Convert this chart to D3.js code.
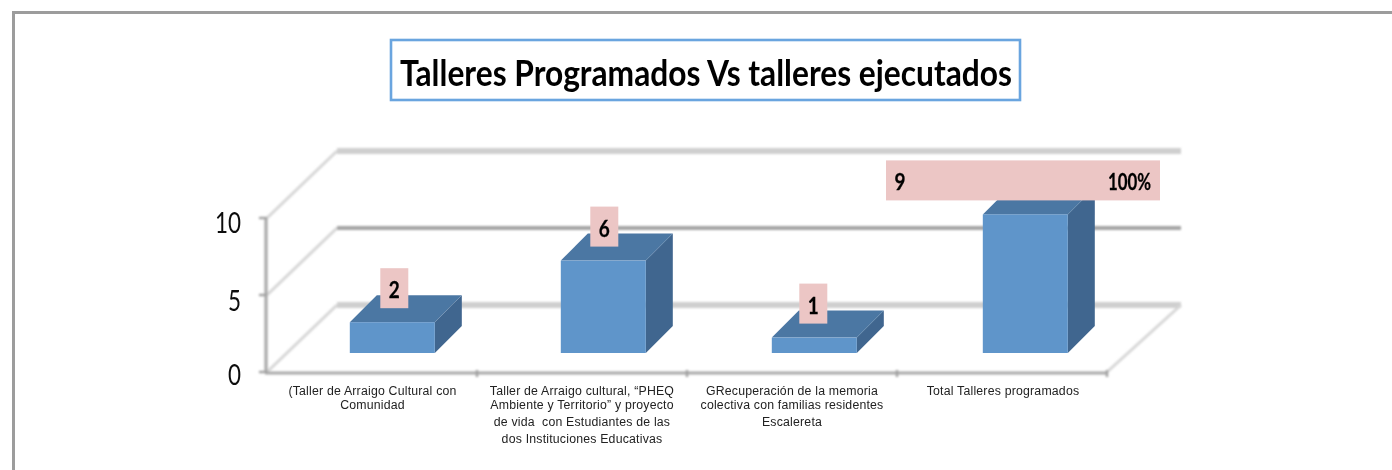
<!DOCTYPE html>
<html><head><meta charset="utf-8">
<script src="https://cdnjs.cloudflare.com/ajax/libs/d3/7.8.5/d3.min.js"></script>
<style>html,body{margin:0;padding:0;background:#fff;overflow:hidden}svg{display:block}</style>
</head><body><svg id="c" width="1392" height="470"></svg>
<script>
const titleText = "Talleres Programados Vs talleres ejecutados";
const categoryLines = [
  ["(Taller de Arraigo Cultural con","Comunidad"],
  ["Taller de Arraigo cultural, “PHEQ","Ambiente y Territorio” y proyecto","de vida  con Estudiantes de las","dos Instituciones Educativas"],
  ["GRecuperación de la memoria","colectiva con familias residentes","Escalereta"],
  ["Total Talleres programados"]
];
const values = [2,6,1,9];
const yTicks = [0,5,10];
const extraLabel = "100%";

const svg = d3.select("#c");
const defs = svg.append("defs");
defs.append("filter").attr("id","soft").attr("filterUnits","userSpaceOnUse").attr("x",0).attr("y",0).attr("width",1392).attr("height",470)
  .append("feGaussianBlur").attr("stdDeviation",0.7);
defs.append("filter").attr("id","grid").attr("filterUnits","userSpaceOnUse").attr("x",0).attr("y",0).attr("width",1392).attr("height",470)
  .append("feGaussianBlur").attr("stdDeviation",0.8);
defs.append("filter").attr("id","txt").attr("filterUnits","userSpaceOnUse").attr("x",0).attr("y",0).attr("width",1392).attr("height",470)
  .append("feGaussianBlur").attr("stdDeviation",0.3);

const idx = d3.range(values.length);
const x = d3.scaleBand().domain(idx).range([267,1107]);
const xBar = d3.scaleBand().domain(idx).range([286.8,1130.8]);
const y = d3.scaleLinear().domain([0,10]).range([372,218]);
const depth = {x:70,y:67};
const barDepth = {x:27,y:27};
const barFloorY = 19;
const barW = 85;

// frame
svg.append("path").attr("d","M13.5,470V12.5H1392").attr("fill","none").attr("stroke","#9c9c9c").attr("stroke-width",3);

// title
svg.append("rect").attr("x",391).attr("y",40).attr("width",629).attr("height",60)
  .attr("fill","#fff").attr("stroke","#6aa5df").attr("stroke-width",2.6);
svg.append("text").attr("x",706).attr("y",86).attr("text-anchor","middle")
  .attr("font-family","Lato").attr("font-weight",700).attr("font-size",37)
  .attr("textLength",612).attr("lengthAdjust","spacingAndGlyphs").attr("fill","#050505").attr("filter","url(#txt)").text(titleText);

// walls
const walls = svg.append("g").attr("filter","url(#grid)").attr("fill","none");
const x0 = x.range()[0], x1 = x.range()[1];
yTicks.forEach(t=>{
  const c = t===5 ? "#a4a4a4" : "#cfcfcf", w = t===5 ? 4 : 6;
  walls.append("line").attr("x1",x0).attr("y1",y(t)).attr("x2",x0+depth.x).attr("y2",y(t)-depth.y)
    .attr("stroke","#d6d6d6").attr("stroke-width",3);
  walls.append("line").attr("x1",x0+depth.x).attr("y1",y(t)-depth.y).attr("x2",x1+depth.x+4).attr("y2",y(t)-depth.y)
    .attr("stroke",c).attr("stroke-width",w);
});
walls.append("line").attr("x1",x1).attr("y1",y(0)).attr("x2",x1+depth.x+4).attr("y2",y(0)-depth.y)
  .attr("stroke","#d6d6d6").attr("stroke-width",3);
// axes
walls.append("line").attr("x1",x0-1).attr("y1",y(0)+1).attr("x2",x0-1).attr("y2",y(10)).attr("stroke","#a8a8a8").attr("stroke-width",3.2);
walls.append("line").attr("x1",x0-2).attr("y1",y(0)+1).attr("x2",x1).attr("y2",y(0)+1).attr("stroke","#a8a8a8").attr("stroke-width",3.2);
yTicks.forEach(t=>walls.append("line").attr("x1",x0-8).attr("x2",x0).attr("y1",y(t)).attr("y2",y(t)).attr("stroke","#a0a0a0").attr("stroke-width",2.4));
idx.forEach(i=>{
  const px = x(i)+x.step();
  walls.append("line").attr("x1",px).attr("x2",px).attr("y1",y(0)-2).attr("y2",y(0)+5).attr("stroke","#a0a0a0").attr("stroke-width",2.4);
});

// bars
const bars = svg.append("g").attr("filter","url(#soft)");
const g = bars.selectAll("g").data(values).join("g");
const L = i => xBar(i)+xBar.bandwidth()/2-barW/2;
const B = () => y(0)-barFloorY;
const T = d => y(d)-barFloorY;
g.append("path").attr("fill","#41668f").attr("d",(d,i)=>{
  const r=L(i)+barW;
  return `M${r},${B()}L${r+barDepth.x},${B()-barDepth.y}V${T(d)-barDepth.y}L${r},${T(d)}Z`;});
g.append("path").attr("fill","#4c77a3").attr("d",(d,i)=>{
  const l=L(i),r=l+barW;
  return `M${l},${T(d)}L${l+barDepth.x},${T(d)-barDepth.y}H${r+barDepth.x}L${r},${T(d)}Z`;});
g.append("rect").attr("fill","#5f95ca").attr("x",(d,i)=>L(i)).attr("y",d=>T(d)).attr("width",barW).attr("height",d=>B()-T(d));

// value labels
const lab = svg.append("g");
const labelFont = {"font-family":"Lato","font-weight":700,"font-size":22,"fill":"#050505","filter":"url(#txt)","lengthAdjust":"spacingAndGlyphs","stroke":"#050505","stroke-width":0.3};
const labelOffset = -54;
const labelDx = [2,1,-1,0];
values.forEach((v,i)=>{
  const cx = L(i)+barW/2+labelDx[i];
  const top = T(v)+labelOffset;
  const wide = i===values.length-1;
  const bx = wide ? 886 : cx-14, bw = wide ? 274 : 28;
  lab.append("rect").attr("x",bx).attr("y",top).attr("width",bw).attr("height",40).attr("fill","#ecc6c5");
  const t = lab.append("text").attr("x",wide?bx+14:cx).attr("y",top+30).attr("text-anchor","middle").attr("textLength",11).text(v);
  Object.entries(labelFont).forEach(([k,val])=>t.attr(k,val));
  if(wide){
    const e = lab.append("text").attr("x",bx+222).attr("y",top+30).attr("textLength",43).text(extraLabel);
    Object.entries(labelFont).forEach(([k,val])=>e.attr(k,val));
  }
});

// y tick labels
const tickDy = {0:12.5,5:16,10:15};
svg.append("g").selectAll("text").data(yTicks).join("text")
  .attr("x",d=>241-String(d).length*13).attr("y",d=>y(d)+tickDy[d])
  .attr("textLength",d=>String(d).length*13).attr("lengthAdjust","spacingAndGlyphs")
  .attr("font-family","Lato").attr("font-size",29).attr("fill","#111").attr("filter","url(#txt)").text(d=>d);

// category labels
const lineY = [0,14.2,31,48];
const catCx = [372.5,582,792,1003];
const cg = svg.append("g").attr("font-family","'Liberation Sans'").attr("font-size",12.3).attr("letter-spacing",0.2).attr("fill","#222").attr("text-anchor","middle").attr("filter","url(#txt)");
categoryLines.forEach((ls,i)=>{
  const t = cg.append("text");
  ls.forEach((s,j)=>{
    t.append("tspan").attr("x",catCx[i]).attr("y",395+lineY[j]).attr("xml:space","preserve").text(s);
  });
});
</script></body></html>
